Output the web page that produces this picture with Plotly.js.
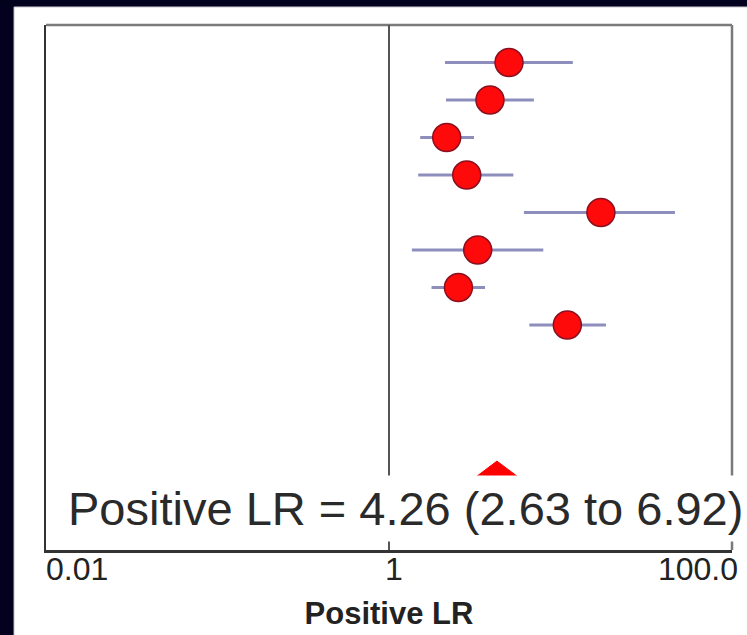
<!DOCTYPE html>
<html>
<head>
<meta charset="utf-8">
<script src="https://cdn.plot.ly/plotly-3.0.1.min.js"></script>
<style>html,body{margin:0;padding:0;background:#02021e;}</style>
</head>
<body>
<div id="chart" style="width:747px;height:635px;"></div>
<script>
// Study rows (top to bottom)
var studyRow = [1, 2, 3, 4, 5, 6, 7, 8];
var lrEstimate = [5.01, 3.88, 2.17, 2.84, 17.2, 3.29, 2.54, 10.96];
var ciLower = [2.12, 2.15, 1.52, 1.48, 6.12, 1.36, 1.77, 6.58];
var ciUpper = [11.8, 7.0, 3.13, 5.31, 46.5, 7.94, 3.63, 18.4];

// Pooled estimate
var pooledRow = 12.35;
var pooledHalfHeight = 0.72;
var pooledEstimate = 4.26;
var pooledLower = 2.63;
var pooledUpper = 6.92;
var pooledLabel = 'Positive LR = 4.26 (2.63 to 6.92)';

// Axis
var tickValues = [0.01, 1, 100];
var tickLabels = ['0.01', '1', '100.0'];
var axisTitle = 'Positive LR';

var ciX = [], ciY = [];
for (var i = 0; i < studyRow.length; i++) {
  ciX.push(ciLower[i], ciUpper[i], null);
  ciY.push(studyRow[i], studyRow[i], null);
}

var ciTrace = {
  x: ciX, y: ciY, type: 'scatter', mode: 'lines',
  line: {color: '#8e8ebd', width: 3},
  hoverinfo: 'skip', showlegend: false
};
var pointTrace = {
  x: lrEstimate, y: studyRow, type: 'scatter', mode: 'markers',
  marker: {color: '#ff0a0a', size: 28, line: {color: '#8a1020', width: 1.5}},
  showlegend: false
};
var diamondTrace = {
  x: [pooledLower, pooledEstimate, pooledUpper, pooledEstimate, pooledLower],
  y: [pooledRow, pooledRow - pooledHalfHeight, pooledRow, pooledRow + pooledHalfHeight, pooledRow],
  type: 'scatter', mode: 'lines', fill: 'toself',
  fillcolor: '#ff0000', line: {color: '#ff0000', width: 1},
  showlegend: false
};
// empty helper traces so the overlaying label axes are drawn
var helperLeft = {x: [], y: [], xaxis: 'x2', yaxis: 'y', type: 'scatter', mode: 'markers', showlegend: false, hoverinfo: 'skip'};
var helperRight = {x: [], y: [], xaxis: 'x3', yaxis: 'y', type: 'scatter', mode: 'markers', showlegend: false, hoverinfo: 'skip'};

var fontFam = '"Liberation Sans", Arial, Helvetica, sans-serif';

var layout = {
  width: 747, height: 635,
  margin: {l: 46, r: 15, t: 25, b: 85},
  paper_bgcolor: '#02021e',
  plot_bgcolor: '#ffffff',
  font: {family: fontFam, color: '#222222'},
  xaxis: {
    type: 'log', range: [-2, 2],
    tickvals: [tickValues[1]], ticktext: [tickLabels[1]],
    ticks: '', ticklabelshift: 5, ticklabelstandoff: -11,
    tickfont: {size: 32, color: '#222222'},
    showgrid: false, zeroline: false,
    showline: true, linecolor: '#333333', linewidth: 2.5,
    title: {text: '<b>' + axisTitle + '</b>', font: {size: 31, color: '#222222'}, standoff: 17}
  },
  xaxis2: {
    type: 'log', range: [-2, 2], overlaying: 'x', side: 'bottom', anchor: 'y',
    tickvals: [tickValues[0]], ticktext: [tickLabels[0]],
    ticklabelposition: 'outside right', ticks: '', ticklabelstandoff: -3,
    tickfont: {size: 32, color: '#222222'},
    showgrid: false, zeroline: false, showline: false
  },
  xaxis3: {
    type: 'log', range: [-2, 2], overlaying: 'x', side: 'bottom', anchor: 'y',
    tickvals: [tickValues[2]], ticktext: [tickLabels[2]],
    ticklabelposition: 'outside left', ticks: '', ticklabelshift: 6, ticklabelstandoff: -3,
    tickfont: {size: 32, color: '#222222'},
    showgrid: false, zeroline: false, showline: false
  },
  yaxis: {
    range: [14, 0], showticklabels: false, ticks: '',
    showgrid: false, zeroline: false,
    showline: true, linecolor: '#333333', linewidth: 2.5
  },
  shapes: [
    {type: 'rect', xref: 'paper', yref: 'paper', x0: -0.0466, x1: 1.1, y0: -0.3, y1: 1.0343,
     fillcolor: '#ffffff', line: {color: '#c8c8d0', width: 1}, layer: 'below'},
    {type: 'line', xref: 'paper', yref: 'paper', x0: 0, x1: 1, y0: 1, y1: 1,
     line: {color: '#7a7a7a', width: 2.5}},
    {type: 'line', xref: 'paper', yref: 'paper', x0: 1, x1: 1, y0: 0, y1: 1,
     line: {color: '#7a7a7a', width: 2.5}},
    {type: 'line', xref: 'x', yref: 'paper', x0: 1, x1: 1, y0: 0, y1: 1,
     line: {color: '#555555', width: 2}}
  ],
  annotations: [
    {xref: 'paper', yref: 'paper', x: 0.022, y: 0.079, xanchor: 'left', yanchor: 'middle',
     text: pooledLabel, showarrow: false, bgcolor: '#ffffff', borderpad: 6,
     font: {size: 47, color: '#2a2a2a', family: fontFam}}
  ]
};

Plotly.newPlot('chart', [ciTrace, diamondTrace, pointTrace, helperLeft, helperRight], layout, {displayModeBar: false, staticPlot: true});
</script>
</body>
</html>
